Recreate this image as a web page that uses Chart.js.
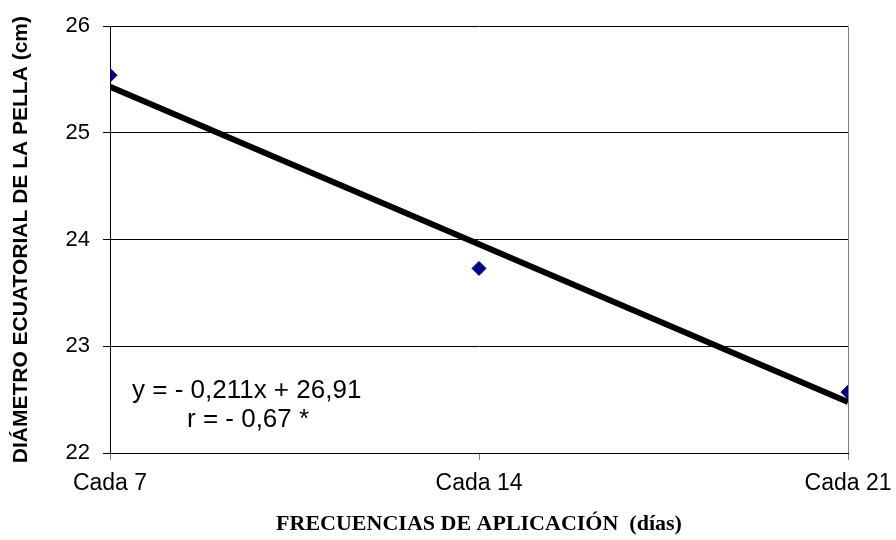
<!DOCTYPE html>
<html>
<head>
<meta charset="utf-8">
<script src="https://cdn.jsdelivr.net/npm/chart.js@4.4.0/dist/chart.umd.min.js"></script>
<style>
  html, body { margin: 0; padding: 0; background: #fff; }
  #wrap { width: 896px; height: 540px; }
</style>
</head>
<body>
<div id="wrap"><canvas id="chartDiametro"></canvas></div>
<script>
// frecuencias (dias) y diametro medido
var dias = [7, 14, 21]
var etiquetas = ['Cada 7', 'Cada 14', 'Cada 21']
var diametro = [25.54, 23.73, 22.57]
var yTicks = [22, 23, 24, 25, 26]
// recta de regresion segun la ecuacion del grafico
var pendiente = -0.211
var intercepto = 26.91
var ecuacion = ['y = - 0,211x + 26,91', 'r = - 0,67 *']

var tendencia = dias.map(function (d) {
  return { x: d, y: intercepto + pendiente * d }
})
var puntos = dias.map(function (d, i) {
  return { x: d, y: diametro[i] }
})

var textoEcuacion = {
  id: 'textoEcuacion',
  afterDraw: function (chart) {
    var ctx = chart.ctx
    var area = chart.chartArea
    ctx.save()
    ctx.fillStyle = '#000'
    ctx.font = '26px "Liberation Sans", Arial, sans-serif'
    ctx.textBaseline = 'middle'
    ctx.textAlign = 'left'
    ctx.fillText(ecuacion[0], area.left + 22, area.top + 365)
    ctx.fillText(ecuacion[1], area.left + 77, area.top + 394)
    ctx.restore()
  },
}

var ctx = document.getElementById('chartDiametro').getContext('2d')

var chart = new Chart(ctx, {
  type: 'scatter',
  data: {
    datasets: [
      {
        label: 'Tendencia',
        type: 'line',
        data: tendencia,
        borderColor: '#000',
        borderWidth: 6,
        pointRadius: 0,
        fill: false,
      },
      {
        label: 'Diámetro',
        data: puntos,
        pointStyle: 'rectRot',
        pointRadius: 7,
        pointHoverRadius: 7,
        backgroundColor: '#000080',
        borderColor: '#000080',
      },
    ],
  },
  options: {
    responsive: true,
    maintainAspectRatio: false,
    animation: false,
    layout: { padding: { top: 25, right: 48, left: 0, bottom: 0 } },
    plugins: { legend: { display: false }, tooltip: { enabled: false } },
    scales: {
      x: {
        type: 'linear',
        min: 7,
        max: 21,
        afterBuildTicks: function (scale) {
          scale.ticks = dias.map(function (d) { return { value: d } })
        },
        afterFit: function (scale) {
          scale.height = 87
          scale.paddingLeft = 0
          scale.paddingRight = 0
        },
        ticks: {
          color: '#000',
          font: { family: '"Liberation Sans", Arial, sans-serif', size: 23 },
          padding: 10,
          maxRotation: 0,
          callback: function (v) {
            var i = dias.indexOf(v)
            return i >= 0 ? etiquetas[i] : ''
          },
        },
        grid: {
          color: function (c) {
            return c.index === dias.length - 1 ? '#808080' : 'rgba(0,0,0,0)'
          },
          tickColor: '#808080',
          tickLength: 7,
        },
        border: { color: '#000', width: 1 },
        title: {
          display: true,
          text: 'FRECUENCIAS DE APLICACIÓN  (días)',
          color: '#000',
          font: { family: '"Liberation Serif", "Times New Roman", serif', size: 22, weight: 'bold' },
          padding: { top: 0, bottom: 2 },
        },
      },
      y: {
        min: 22,
        max: 26,
        afterBuildTicks: function (scale) {
          scale.ticks = yTicks.map(function (v) { return { value: v } })
        },
        afterFit: function (scale) { scale.width = 110 },
        ticks: {
          color: '#000',
          font: { family: '"Liberation Sans", Arial, sans-serif', size: 22 },
          padding: 13,
        },
        grid: { color: '#000', tickColor: '#000', tickLength: 7 },
        border: { color: '#000', width: 1 },
        title: {
          display: true,
          text: 'DIÁMETRO ECUATORIAL DE LA PELLA (cm)',
          color: '#000',
          font: { family: '"Liberation Sans", Arial, sans-serif', size: 21, weight: 'bold' },
          padding: { top: 9, bottom: 0 },
        },
      },
    },
  },
  plugins: [textoEcuacion],
})
</script>
</body>
</html>
